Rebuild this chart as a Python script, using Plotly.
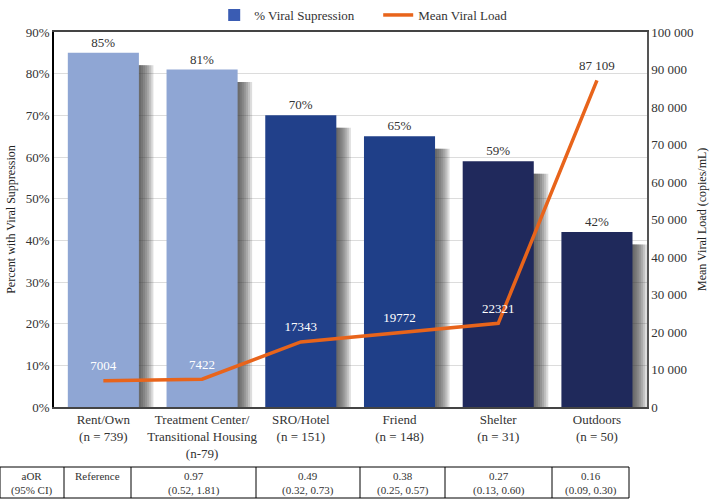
import plotly.graph_objects as go

# --- data ---
categories = ["Rent/Own<br>(n = 739)",
              "Treatment Center/<br>Transitional Housing<br>(n-79)",
              "SRO/Hotel<br>(n = 151)",
              "Friend<br>(n = 148)",
              "Shelter<br>(n = 31)",
              "Outdoors<br>(n = 50)"]
pct_suppressed = [85, 81, 70, 65, 59, 42]
pct_labels = ["85%", "81%", "70%", "65%", "59%", "42%"]
mean_viral_load = [7004, 7422, 17343, 19772, 22321, 87109]
load_labels = ["7004", "7422", "17343", "19772", "22321", "87 109"]

table_cols = ["aOR<br>(95% CI)", "Reference",
              "0.97<br>(0.52, 1.81)", "0.49<br>(0.32, 0.73)", "0.38<br>(0.25, 0.57)",
              "0.27<br>(0.13, 0.60)", "0.16<br>(0.09, 0.30)"]
table_widths = [64, 67, 125, 104, 85, 107, 77]

bar_colors = ["#8fa6d4", "#8fa6d4", "#21408a", "#1f3f88", "#20295c", "#1f295b"]
FONT = "Liberation Serif"
W, H = 714, 499

fig = go.Figure()

# soft drop shadow behind each bar: stacked translucent grey bars, widening to the right
shadow_drop = 3
for k in range(7):
    fig.add_trace(go.Bar(
        x=categories, y=[v - shadow_drop for v in pct_suppressed],
        width=0.60 + 0.021 * (k + 1), offset=-0.24,
        marker=dict(color="rgba(55,55,55,0.17)", line=dict(width=0)),
        showlegend=False, hoverinfo="skip"))

fig.add_trace(go.Bar(
    x=categories, y=pct_suppressed, width=0.72, offset=-0.36,
    marker=dict(color=bar_colors, line=dict(width=0)),
    text=pct_labels, textposition="outside", cliponaxis=False,
    textfont=dict(family=FONT, size=13, color="#333"),
    showlegend=False))

# legend-only entry for the bars
fig.add_trace(go.Bar(x=[None], y=[None], name="% Viral Supression",
                     marker=dict(color="#3a5cb3")))

# invisible markers only serve to lift the value labels off the line
fig.add_trace(go.Scatter(
    x=categories, y=mean_viral_load, yaxis="y2", name="Mean Viral Load",
    mode="lines+markers+text",
    line=dict(color="#e8641b", width=3.5),
    marker=dict(size=10, color="rgba(0,0,0,0)"),
    text=load_labels, textposition="top center",
    textfont=dict(family=FONT, size=13,
                  color=["white", "white", "white", "white", "white", "#333"])))

# aOR table under the chart: cell borders and centred cell texts
tab_top, tab_bot = 467, 498
edges = [0]
for w in table_widths:
    edges.append(edges[-1] + w)

shapes = [dict(type="rect", xref="paper", yref="paper",
               x0=0, x1=edges[-1] / W, y0=(H - tab_bot) / H, y1=(H - tab_top) / H,
               line=dict(color="black", width=1))]
for e in edges[1:-1]:
    shapes.append(dict(type="line", xref="paper", yref="paper",
                       x0=e / W, x1=e / W, y0=(H - tab_bot) / H, y1=(H - tab_top) / H,
                       line=dict(color="black", width=1)))

annotations = []
for i, txt in enumerate(table_cols):
    annotations.append(dict(text=txt, xref="paper", yref="paper",
                            x=(edges[i] + edges[i + 1]) / 2 / W, y=(H - tab_top - 1) / H,
                            xanchor="center", yanchor="top", align="center", showarrow=False,
                            font=dict(family=FONT, size=11, color="#333")))

annotations.append(dict(text="Mean Viral Load (copies/mL)", textangle=-90,
                        xref="paper", yref="paper", x=711 / W, y=(H - 220) / H,
                        xanchor="right", showarrow=False,
                        font=dict(family=FONT, size=12, color="#222")))

fig.update_layout(
    width=W, height=H,
    margin=dict(l=0, r=0, t=0, b=0),
    template="none",
    plot_bgcolor="white", paper_bgcolor="white",
    font=dict(family=FONT, size=13, color="#333"),
    barmode="overlay",
    separators=". ",
    legend=dict(orientation="h", x=0.30, y=1.0, yanchor="top", entrywidth=119,
                font=dict(family=FONT, size=13, color="#333"), bgcolor="rgba(0,0,0,0)"),
    xaxis=dict(domain=[54 / W, 647 / W], showgrid=False, ticks="",
               showline=True, mirror=True, linecolor="#444", linewidth=1.5,
               tickfont=dict(family=FONT, size=13, color="#333"), automargin=False),
    yaxis=dict(domain=[(H - 407) / H, (H - 32) / H], range=[0, 90], dtick=10,
               ticksuffix="%", showgrid=True, gridcolor="#dcdcdc", zeroline=False,
               showline=True, linecolor="black", linewidth=1.5, ticks="",
               title=dict(text="Percent with Viral Suppression", standoff=8,
                          font=dict(family=FONT, size=12, color="#222")),
               tickfont=dict(family=FONT, size=13, color="#333"), automargin=False),
    yaxis2=dict(overlaying="y", side="right", range=[0, 100000], dtick=10000,
                tickformat=",d", showgrid=False, zeroline=False,
                showline=True, linecolor="#555", linewidth=1.5, ticks="",
                tickfont=dict(family=FONT, size=13, color="#333"), automargin=False),
    shapes=shapes,
    annotations=annotations,
)

# drop the default 8px body margin so the figure fills the window exactly
fig.write_html("out.html", config={"displayModeBar": False},
               post_script="document.body.style.margin='0';")
